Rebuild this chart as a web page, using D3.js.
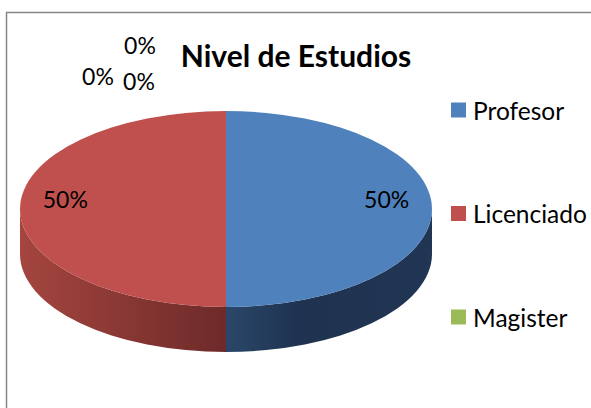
<!DOCTYPE html>
<html>
<head>
<meta charset="utf-8">
<script src="https://cdn.jsdelivr.net/npm/d3@7"></script>
<style>
  body { margin: 0; background: #fff; }
  text { font-family: Lato, "Open Sans", sans-serif; }
</style>
</head>
<body>
<div id="chart"></div>
<script>
// data
var categories = ["Profesor", "Licenciado", "Magister", "", ""];
var values = [50, 50, 0, 0, 0];
var legendItems = ["Profesor", "Licenciado", "Magister"];
var colors = ["#4F81BD", "#C0504D", "#9BBB59", "#8064A2", "#4BACC6"];
// side wall shades (near edge -> centre of front)
var sideShades = [["#2A4769", "#1F3350"], ["#A5453F", "#6D2A29"], ["#7d9a45", "#5f7833"], ["#5e4a7a", "#46365c"], ["#3a8aa0", "#2b6a7b"]];

var width = 591, height = 408;
var cx = 226, cy = 209, rx = 206, ry = 98, depth = 45;

var svg = d3.select("#chart").append("svg")
    .attr("width", width)
    .attr("height", height);

// chart frame (only top & left show in the crop)
svg.append("path")
    .attr("d", "M6.5,420 V12.5 H600")
    .attr("fill", "none")
    .attr("stroke", "#868686")
    .attr("stroke-width", 1.5);

var pie = d3.pie().sort(null).value(function(d) { return d; });
var arcs = pie(values);

function pt(a, dy) {
  return [cx + rx * Math.sin(a), cy - ry * Math.cos(a) + (dy || 0)];
}

function topPath(d) {
  var a0 = d.startAngle, a1 = d.endAngle;
  if (a1 - a0 <= 0) return "";
  var p0 = pt(a0), p1 = pt(a1);
  var large = (a1 - a0) > Math.PI ? 1 : 0;
  return "M" + cx + "," + cy + "L" + p0 + "A" + rx + "," + ry + " 0 " + large + " 1 " + p1 + "Z";
}

// only the part of the slice facing us (between PI/2 and 3PI/2)
function sidePath(d) {
  var a0 = Math.max(d.startAngle, Math.PI / 2), a1 = Math.min(d.endAngle, 3 * Math.PI / 2);
  if (a1 <= a0) return "";
  var p0 = pt(a0), p1 = pt(a1), q1 = pt(a1, depth), q0 = pt(a0, depth);
  return "M" + p0 + "A" + rx + "," + ry + " 0 0 1 " + p1 +
         "L" + q1 + "A" + rx + "," + ry + " 0 0 0 " + q0 + "Z";
}

var defs = svg.append("defs");
arcs.forEach(function(d, i) {
  var a0 = Math.max(d.startAngle, Math.PI / 2), a1 = Math.min(d.endAngle, 3 * Math.PI / 2);
  if (a1 <= a0) return;
  var x0 = pt(a0)[0], x1 = pt(a1)[0];
  var g = defs.append("linearGradient")
      .attr("id", "side" + i)
      .attr("gradientUnits", "userSpaceOnUse")
      .attr("x1", Math.min(x0, x1)).attr("x2", Math.max(x0, x1))
      .attr("y1", 0).attr("y2", 0);
  var left = Math.min(x0, x1) < cx - 1;
  g.append("stop").attr("offset", 0).attr("stop-color", sideShades[i][0]);
  g.append("stop").attr("offset", left ? 1 : 0.35).attr("stop-color", sideShades[i][1]);
  if (!left) g.append("stop").attr("offset", 1).attr("stop-color", "#213654");
});

svg.append("g").selectAll("path.side")
    .data(arcs)
    .enter().append("path")
    .attr("class", "side")
    .attr("d", sidePath)
    .attr("fill", function(d, i) { return "url(#side" + i + ")"; });

svg.append("g").selectAll("path.top")
    .data(arcs)
    .enter().append("path")
    .attr("class", "top")
    .attr("d", topPath)
    .attr("fill", function(d, i) { return colors[i]; });

// data labels
var zeroOffsets = [[-86, -66], [-128, -35], [-87, -30]];
var zi = 0;
svg.append("g").selectAll("text")
    .data(arcs)
    .enter().append("text")
    .attr("text-anchor", "middle")
    .attr("dominant-baseline", "central")
    .attr("font-size", 23)
    .attr("fill", "#000")
    .attr("transform", function(d) {
      var p;
      if (d.value > 0) {
        var m = (d.startAngle + d.endAngle) / 2;
        p = [cx + 0.78 * rx * Math.sin(m), cy - 0.78 * ry * Math.cos(m) - 10];
      } else {
        var base = pt(d.startAngle);
        var o = zeroOffsets[zi++];
        p = [base[0] + o[0], base[1] + o[1]];
      }
      return "translate(" + p + ")";
    })
    .text(function(d) { return Math.round(d.value / d3.sum(values) * 100) + "%"; });

// title
svg.append("text")
    .attr("x", 296)
    .attr("y", 55)
    .attr("text-anchor", "middle")
    .attr("dominant-baseline", "central")
    .attr("font-size", 30)
    .attr("font-weight", "bold")
    .text("Nivel de Estudios");

// legend
var legendY = d3.scalePoint().domain(legendItems).range([110, 317]);
var leg = svg.append("g").selectAll("g")
    .data(legendItems)
    .enter().append("g")
    .attr("transform", function(d) { return "translate(451," + legendY(d) + ")"; });
leg.append("rect")
    .attr("x", 0).attr("y", -7.5)
    .attr("width", 15).attr("height", 15)
    .attr("fill", function(d) { return colors[categories.indexOf(d)]; });
leg.append("text")
    .attr("x", 22)
    .attr("dominant-baseline", "central")
    .attr("font-size", 24.5)
    .text(function(d) { return d; });
</script>
</body>
</html>
